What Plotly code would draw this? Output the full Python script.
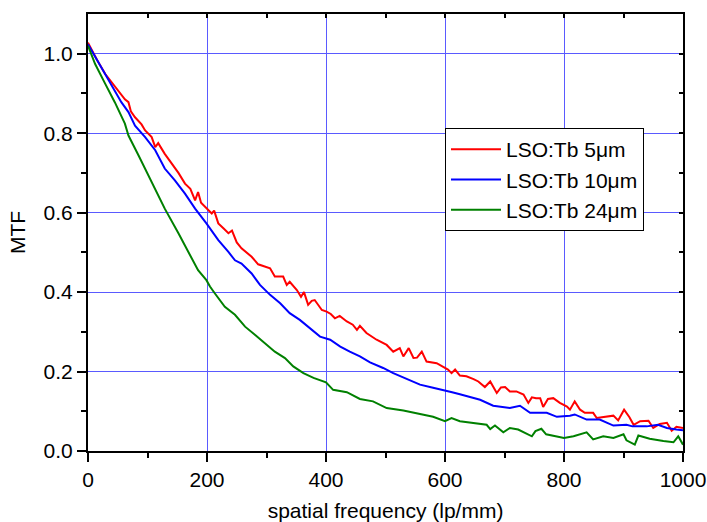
import plotly.graph_objects as go

# ---- data ----
red_x = [0, 15, 29, 45, 56, 62, 68, 72, 79, 90, 96, 107, 113, 118, 129, 141, 152, 163, 172, 180,
         185, 190, 197, 208, 212, 219, 228, 236, 242, 250, 258, 266, 275, 286, 298, 306, 314, 328,
         334, 339, 351, 358, 363, 370, 376, 381, 393, 401, 408, 415, 423, 435, 445, 452, 457, 468,
         485, 502, 513, 524, 530, 539, 547, 553, 561, 569, 586, 597, 605, 611, 617, 625, 636, 648,
         656, 667, 676, 687, 694, 701, 709, 720, 732, 740, 746, 753, 760, 765, 773, 782, 793, 805,
         810, 818, 827, 835, 849, 855, 870, 883, 891, 901, 910, 917, 928, 942, 950, 961, 973, 981,
         989, 1000]
red_y = [1.028, 0.985, 0.949, 0.918, 0.895, 0.885, 0.878, 0.855, 0.840, 0.822, 0.807, 0.790, 0.765,
         0.775, 0.748, 0.723, 0.700, 0.673, 0.660, 0.631, 0.652, 0.625, 0.614, 0.598, 0.605, 0.573,
         0.560, 0.548, 0.555, 0.525, 0.510, 0.500, 0.489, 0.470, 0.464, 0.460, 0.439, 0.439, 0.418,
         0.426, 0.405, 0.388, 0.400, 0.368, 0.378, 0.380, 0.355, 0.351, 0.345, 0.334, 0.340, 0.326,
         0.318, 0.305, 0.315, 0.297, 0.280, 0.267, 0.250, 0.259, 0.238, 0.259, 0.234, 0.235, 0.250,
         0.225, 0.221, 0.211, 0.205, 0.196, 0.205, 0.190, 0.188, 0.181, 0.175, 0.161, 0.175, 0.146,
         0.160, 0.161, 0.150, 0.150, 0.142, 0.121, 0.135, 0.133, 0.133, 0.111, 0.131, 0.133, 0.121,
         0.112, 0.104, 0.125, 0.104, 0.096, 0.096, 0.083, 0.087, 0.089, 0.077, 0.104, 0.085, 0.066,
         0.075, 0.076, 0.058, 0.068, 0.071, 0.051, 0.061, 0.058]

blue_x = [0, 15, 29, 43, 56, 68, 79, 96, 113, 129, 146, 163, 180, 199, 219, 236, 247, 258, 275,
          289, 297, 306, 323, 339, 356, 373, 390, 407, 424, 440, 457, 474, 496, 513, 536, 558, 580,
          600, 612, 625, 640, 659, 681, 709, 726, 743, 771, 788, 810, 818, 838, 860, 883, 905, 915,
          939, 958, 973, 989, 1000]
blue_y = [1.024, 0.985, 0.949, 0.912, 0.878, 0.853, 0.819, 0.790, 0.757, 0.711, 0.681, 0.648, 0.610,
          0.573, 0.531, 0.501, 0.480, 0.472, 0.447, 0.418, 0.405, 0.393, 0.372, 0.347, 0.330, 0.309,
          0.288, 0.280, 0.263, 0.250, 0.238, 0.223, 0.209, 0.196, 0.181, 0.167, 0.159, 0.153, 0.148,
          0.143, 0.136, 0.129, 0.114, 0.108, 0.114, 0.096, 0.096, 0.086, 0.089, 0.092, 0.079, 0.079,
          0.064, 0.066, 0.062, 0.062, 0.066, 0.058, 0.054, 0.052]

green_x = [0, 12, 29, 45, 62, 68, 85, 107, 129, 152, 169, 180, 185, 199, 205, 213, 230, 247, 264,
           281, 297, 314, 331, 345, 362, 379, 400, 405, 412, 435, 457, 479, 502, 530, 558, 580, 600,
           611, 625, 642, 670, 676, 684, 698, 709, 723, 746, 752, 762, 770, 782, 800, 816, 838, 849,
           866, 883, 900, 905, 919, 925, 944, 967, 984, 992, 1000]
green_y = [1.020, 0.974, 0.924, 0.878, 0.824, 0.794, 0.744, 0.677, 0.610, 0.548, 0.501, 0.472,
           0.455, 0.430, 0.414, 0.397, 0.363, 0.343, 0.313, 0.292, 0.272, 0.250, 0.234, 0.213, 0.196,
           0.184, 0.173, 0.165, 0.154, 0.148, 0.131, 0.125, 0.108, 0.102, 0.092, 0.086, 0.075, 0.083,
           0.075, 0.071, 0.066, 0.055, 0.064, 0.047, 0.058, 0.054, 0.037, 0.050, 0.056, 0.042, 0.039,
           0.033, 0.037, 0.047, 0.029, 0.037, 0.033, 0.042, 0.027, 0.016, 0.039, 0.031, 0.025, 0.022,
           0.037, 0.016]

series_names = ["LSO:Tb 5μm", "LSO:Tb 10μm", "LSO:Tb 24μm"]
series_colors = ["#ff0000", "#0000ff", "#008000"]

x_title = "spatial frequency (lp/mm)"
y_title = "MTF"

FONT = "Liberation Sans, Arial, sans-serif"

fig = go.Figure()
for xs, ys, name, col in zip([red_x, blue_x, green_x], [red_y, blue_y, green_y],
                             series_names, series_colors):
    fig.add_trace(go.Scatter(x=xs, y=ys, mode="lines", name=name,
                             line=dict(color=col, width=2)))

# invisible trace to anchor the mirrored (top/right) axes with inward ticks
fig.add_trace(go.Scatter(x=[0, 1000], y=[0, 1.1], xaxis="x2", yaxis="y2", mode="markers",
                         marker=dict(opacity=0), showlegend=False, hoverinfo="skip"))

grid_col = "#5a5aff"
fig.update_layout(
    width=707, height=522,
    margin=dict(l=88, r=24, t=14, b=71, autoexpand=False),
    paper_bgcolor="white", plot_bgcolor="white",
    font=dict(family=FONT, color="black", size=21),
    showlegend=True,
    legend=dict(x=0.6, y=0.739, xanchor="left", yanchor="top",
                bgcolor="white", bordercolor="black", borderwidth=1,
                font=dict(family=FONT, size=21), tracegroupgap=0,
                itemwidth=50),
    xaxis=dict(range=[0, 1000], tickvals=[0, 200, 400, 600, 800, 1000], automargin=False,
               showgrid=True, gridcolor=grid_col, gridwidth=1.3,
               showline=True, linecolor="black", linewidth=2, mirror=True,
               ticks="outside", ticklen=9, tickwidth=2, tickcolor="black",
               minor=dict(tickvals=[100, 300, 500, 700, 900], ticks="outside",
                          ticklen=5, tickwidth=2, tickcolor="black", showgrid=False),
               zeroline=False,
               title=dict(text=x_title, font=dict(size=21), standoff=16),
               tickfont=dict(size=21)),
    yaxis=dict(range=[0, 1.1], tickvals=[0, 0.2, 0.4, 0.6, 0.8, 1.0], automargin=False,
               ticktext=["0.0", "0.2", "0.4", "0.6", "0.8", "1.0"],
               showgrid=True, gridcolor=grid_col, gridwidth=1.3,
               showline=True, linecolor="black", linewidth=2, mirror=True,
               ticks="outside", ticklen=9, tickwidth=2, tickcolor="black",
               minor=dict(tickvals=[0.1, 0.3, 0.5, 0.7, 0.9], ticks="outside",
                          ticklen=5, tickwidth=2, tickcolor="black", showgrid=False),
               zeroline=False,
               title=dict(text=y_title, font=dict(size=21), standoff=12),
               tickfont=dict(size=21)),
    xaxis2=dict(range=[0, 1000], overlaying="x", side="top", anchor="y", automargin=False,
                tickvals=[0, 100, 200, 300, 400, 500, 600, 700, 800, 900, 1000],
                showticklabels=False, ticks="inside", ticklen=4, tickwidth=2,
                tickcolor="black", showgrid=False, showline=False, zeroline=False),
    yaxis2=dict(range=[0, 1.1], overlaying="y", side="right", anchor="x", automargin=False,
                tickvals=[0, 0.1, 0.2, 0.3, 0.4, 0.5, 0.6, 0.7, 0.8, 0.9, 1.0],
                showticklabels=False, ticks="inside", ticklen=4, tickwidth=2,
                tickcolor="black", showgrid=False, showline=False, zeroline=False),
)

fig.write_html("out.html", config={"displayModeBar": False},
               post_script="document.body.style.margin='0';document.body.style.overflow='hidden';")
